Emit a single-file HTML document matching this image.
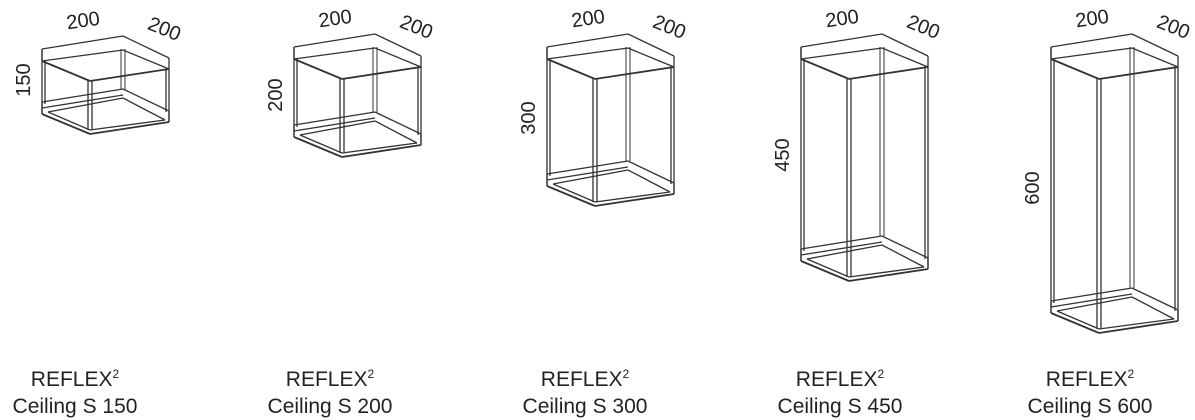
<!DOCTYPE html>
<html><head><meta charset="utf-8"><style>
body{margin:0;background:#fff;width:1195px;height:420px;overflow:hidden;position:relative;font-family:"Liberation Sans",sans-serif;color:#222}
svg{position:absolute;left:0;top:0}
.lb{position:absolute;width:200px;text-align:center;font-size:21px;line-height:27px}
.lb sup{font-size:12px;vertical-align:8px}
</style></head><body>
<svg id="s" width="1195" height="420" viewBox="0 0 1195 420"></svg>
<div class="lb" style="left:-25px;top:361px">REFLEX<sup>2</sup><br>Ceiling S 150</div>
<div class="lb" style="left:230px;top:361px">REFLEX<sup>2</sup><br>Ceiling S 200</div>
<div class="lb" style="left:485px;top:361px">REFLEX<sup>2</sup><br>Ceiling S 300</div>
<div class="lb" style="left:740px;top:361px">REFLEX<sup>2</sup><br>Ceiling S 450</div>
<div class="lb" style="left:990px;top:361px">REFLEX<sup>2</sup><br>Ceiling S 600</div>
<script>
var s=document.getElementById('s'),o='';
function L(a,b,c,d,w){o+='<line x1="'+a+'" y1="'+b+'" x2="'+c+'" y2="'+d+'" stroke="#333" stroke-width="'+(w||1.3)+'"/>';}
function cube(x0,y0,yb,hl,t){
 var Lx=x0,F=x0+48,R=x0+127,B=x0+81;
 L(Lx,y0,B,y0-13);L(B,y0-13,R,y0+9);L(Lx,y0,Lx,y0+12);L(R,y0+9,R,y0+20);
 L(Lx,y0+12,F,y0+32,1.8);L(F,y0+32,R,y0+20,1.8);L(Lx,y0+12,B,y0+1);L(B,y0+1,R,y0+20);
 var by=yb;
 L(Lx,y0,Lx,by-20);L(Lx+3,y0+12,Lx+3,by-30);
 L(F-2,y0+32,F-2,by-4);L(F+2,y0+32,F+2,by-4);
 L(R,y0+20,R,by-12);L(R-3,y0+20,R-3,by-22);
 L(B-2,y0,B-2,by-45,1);L(B+2,y0,B+2,by-45,1);
 L(Lx,by-32,B,by-45);L(Lx,by-26,B,by-39);L(B,by-45,R,by-23);L(Lx,by-32,Lx,by-20);
 L(Lx,by-20,F,by,1.8);L(F,by,R,by-12,1.8);L(R,by-23,R,by-12);
 L(Lx+6,by-22,F,by-4);L(F,by-4,R-4,by-14);L(Lx+6,by-22,B,by-36);L(B,by-36,R-4,by-14);
 o+='<text x="'+(x0+42)+'" y="'+(y0-22)+'" font-family="Liberation Sans" font-size="20" fill="#222" text-anchor="middle" transform="rotate(-8 '+(x0+42)+' '+(y0-22)+')">200</text>';
 o+='<text x="'+(x0+120)+'" y="'+(y0-14)+'" font-family="Liberation Sans" font-size="20" fill="#222" text-anchor="middle" transform="rotate(22 '+(x0+120)+' '+(y0-14)+')">200</text>';
 o+='<text x="'+(x0-12)+'" y="'+hl+'" font-family="Liberation Sans" font-size="20" fill="#222" text-anchor="middle" transform="rotate(-90 '+(x0-12)+' '+hl+')">'+t+'</text>';
}
cube(42,49,134,80,150);
cube(294,47,157,95,200);
cube(547,47,206,118,300);
cube(801,47,281,155,450);
cube(1051,47,333,188,600);
s.innerHTML=o;
</script>
</body></html>
